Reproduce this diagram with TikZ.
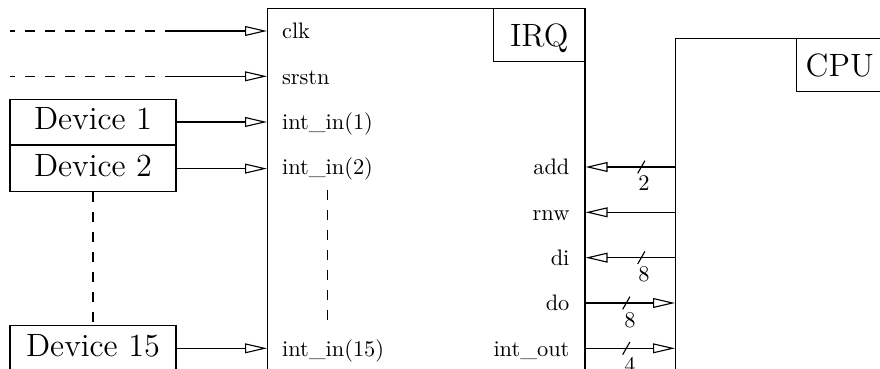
\documentclass[tikz,border=0pt]{standalone}
\usetikzlibrary{arrows.meta}
\begin{document}
\begin{tikzpicture}[x=0.4464pt,y=-0.4464pt,line width=0.5pt,
  sig/.style={-{Triangle[open,length=9.8pt,width=4.4pt]}},
  dsh/.style={dash pattern=on 4.464pt off 4.464pt},
  box/.style={draw,rectangle,inner sep=0pt},
  big/.style={box,font=\Large,text height=9.8pt,text depth=0pt},
  dev/.style={box,font=\Large,minimum width=74.1pt,minimum height=20.3pt,text height=9.8pt,text depth=2.66pt},
  lbl/.style={inner sep=0pt,anchor=base west},
  rlbl/.style={inner sep=0pt,anchor=base east},
  num/.style={inner sep=0pt}]
\useasboundingbox (0,0) rectangle (880,369);
% blocks
\node[box,anchor=north west,minimum width=141.7pt,minimum height=200pt] (irq) at (267,8) {};
\node[big,anchor=north east,minimum width=40.85pt,minimum height=23.66pt] (irqlbl) at (irq.north east) {IRQ};
\node[box,anchor=north west,minimum width=120pt,minimum height=200pt] (cpu) at (675,38.3) {};
\node[big,anchor=north west,minimum width=38.5pt,minimum height=23.5pt] (cpulbl) at (796,38.3) {CPU};
% devices
\node[dev] (dev1) at (93,122) {Device 1};
\node[dev,anchor=north] (dev2) at (dev1.south) {Device 2};
\node[dev] (dev15) at (93,348.33) {Device 15};
% row coordinates
\coordinate (c0) at (10,31);
\coordinate (c1) at (166.7,31);
\coordinate (d0) at (10,76.33);
\coordinate (d1) at (166.7,76.33);
\coordinate (r3) at (600,167);
\coordinate (r4) at (600,212.33);
\coordinate (r5) at (600,257.67);
\coordinate (r6) at (600,303);
\coordinate (r7) at (600,348.33);
\coordinate (v0) at (327.3,190);
\coordinate (v1) at (327.3,325.7);
% left labels
\node[lbl] (lclk) at (281.5,38.7) {clk};
\node[lbl] (lsrst) at (281.5,84.03) {srstn};
\node[lbl] (lin1) at (281.5,129.37) {int\_in(1)};
\node[lbl] (lin2) at (281.5,174.7) {int\_in(2)};
\node[lbl] (lin15) at (281.5,356.03) {int\_in(15)};
% right labels
\node[rlbl] (ladd) at (570,174.7) {add};
\node[rlbl] (lrnw) at (570,220.03) {rnw};
\node[rlbl] (ldi) at (570,265.37) {di};
\node[rlbl] (ldo) at (570,310.7) {do};
\node[rlbl] (lout) at (570,356.03) {int\_out};
% left connectors
\draw[dsh,dash phase=2.232pt] (c0) -- (c1);
\draw[sig] (c1) -- (c1 -| irq.west);
\draw[dsh,dash phase=2.232pt] (d0) -- (d1);
\draw[sig] (d1) -- (d1 -| irq.west);
\draw[sig] (dev1.east) -- (dev1.east -| irq.west);
\draw[sig] (dev2.east) -- (dev2.east -| irq.west);
\draw[sig] (dev15.east) -- (dev15.east -| irq.west);
\draw[dsh] (dev2.south) -- (dev15.north);
\draw[dsh] (v0) -- (v1);
% right connectors
\draw[sig] (cpu.west |- r3) -- (irq.east |- r3);
\draw[sig] (cpu.west |- r4) -- (irq.east |- r4);
\draw[sig] (cpu.west |- r5) -- (irq.east |- r5);
\draw[sig] (irq.east |- r6) -- (cpu.west |- r6);
\draw[sig] (irq.east |- r7) -- (cpu.west |- r7);
% bus markers
\coordinate (s3) at (641.3,167);
\coordinate (s5) at (641.3,257.67);
\coordinate (s6) at (626.3,303);
\coordinate (s7) at (626.3,348.33);
\draw ([shift={(-3.6,6.3)}]s3) -- ([shift={(3.6,-6.3)}]s3);
\draw ([shift={(-3.6,6.3)}]s5) -- ([shift={(3.6,-6.3)}]s5);
\draw ([shift={(-3.6,6.3)}]s6) -- ([shift={(3.6,-6.3)}]s6);
\draw ([shift={(-3.6,6.3)}]s7) -- ([shift={(3.6,-6.3)}]s7);
\node[num] (n3) at ([shift={(2.7,16.3)}]s3) {2};
\node[num] (n5) at ([shift={(2.7,16.3)}]s5) {8};
\node[num] (n6) at ([shift={(3.7,17)}]s6) {8};
\node[num] (n7) at ([shift={(3.7,17)}]s7) {4};
\end{tikzpicture}
\end{document}
